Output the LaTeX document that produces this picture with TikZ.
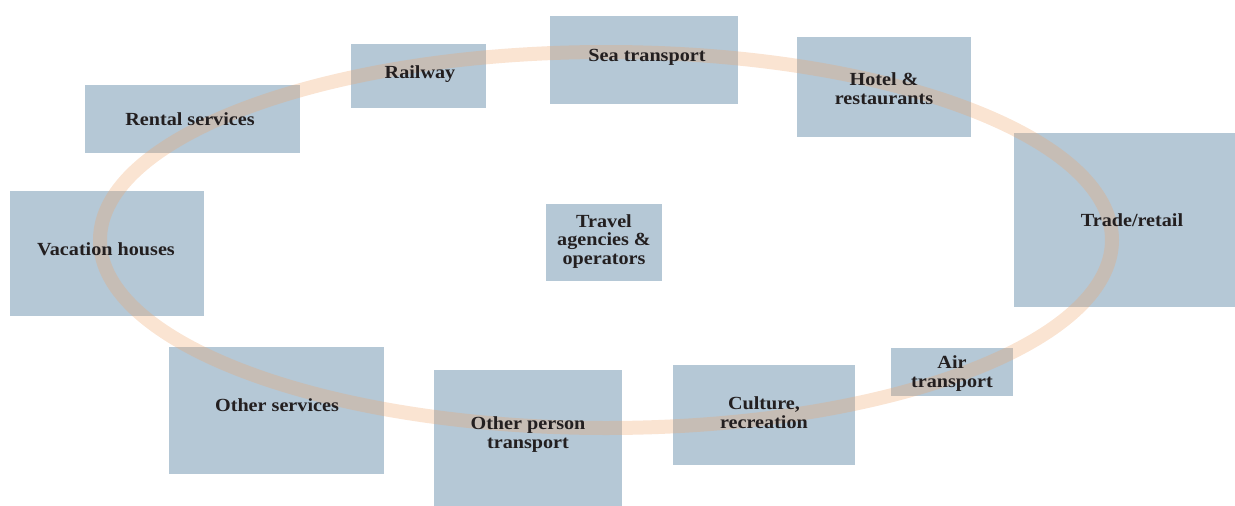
\documentclass[tikz,border=0pt]{standalone}
\usepackage{fontspec}
\setmainfont[FakeStretch=1.09]{Liberation Serif}
\usetikzlibrary{shapes.geometric}
\definecolor{boxblue}{RGB}{181,200,214}
\definecolor{ringorange}{RGB}{239,164,106}
\definecolor{txtdark}{RGB}{35,31,32}
\tikzset{
  box/.style={fill=boxblue, draw=none, inner sep=0pt, anchor=north west},
  lbl/.style={font=\bfseries\fontsize{18.5}{18.5}\selectfont, text=txtdark, align=center, inner sep=0pt, yshift=-1.5pt},
  ring/.style={draw=ringorange, draw opacity=0.3, line width=14pt}
}
\begin{document}
\begin{tikzpicture}[x=1pt,y=-1pt]
\useasboundingbox (0,0) rectangle (1235,506);
% boxes
\node[box, minimum width=215pt, minimum height=68pt] (rentalbox) at (85,85) {};
\node[box, minimum width=135pt, minimum height=64pt] (railbox) at (351,44) {};
\node[box, minimum width=188pt, minimum height=88pt] (seabox) at (550,16) {};
\node[box, minimum width=174pt, minimum height=100pt] (hotelbox) at (797,37) {};
\node[box, minimum width=221pt, minimum height=174pt] (tradebox) at (1014,133) {};
\node[box, minimum width=194pt, minimum height=125pt] (vacbox) at (10,191) {};
\node[box, minimum width=116pt, minimum height=77pt] (travelbox) at (546,204) {};
\node[box, minimum width=215pt, minimum height=127pt] (othsbox) at (169,347) {};
\node[box, minimum width=188pt, minimum height=136pt] (othpbox) at (434,370) {};
\node[box, minimum width=182pt, minimum height=100pt] (cultbox) at (673,365) {};
\node[box, minimum width=122pt, minimum height=48pt] (airbox) at (891,348) {};
% ring
\node[ring, ellipse, minimum width=1012pt, minimum height=376pt, inner sep=0pt] (ring) at (606,240) {};
% labels
\node[lbl] (rental) at (190,118) {Rental services};
\node[lbl] (rail) at (420,73) {Railway};
\node[lbl] (sea) at (647,56) {Sea transport};
\node[lbl] (hotel) at (884,87) {Hotel \&\\restaurants};
\node[lbl] (trade) at (1132,219) {Trade/retail};
\node[lbl] (vac) at (106,248) {Vacation houses};
\node[lbl] (travel) at (604,240) {Travel\\agencies \&\\operators};
\node[lbl] (oths) at (277,404) {Other services};
\node[lbl] (othp) at (528,433) {Other person\\transport};
\node[lbl] (cult) at (764,411) {Culture,\\recreation};
\node[lbl] (air) at (952,372) {Air\\transport};
\end{tikzpicture}
\end{document}
